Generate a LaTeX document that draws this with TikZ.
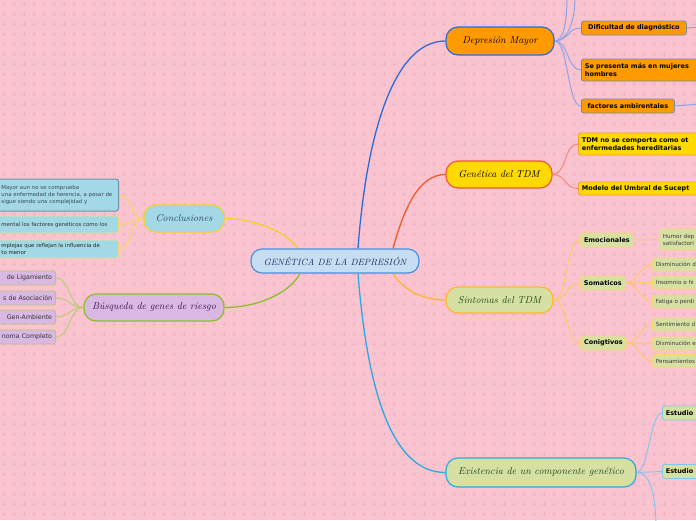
\documentclass[tikz,border=0pt]{standalone}
\usepackage{fontspec}
\setsansfont{DejaVu Sans}
\usetikzlibrary{calc}
\pgfdeclarelayer{bgl}
\pgfsetlayers{bgl,main}
\definecolor{bg}{HTML}{F9C4D0}
\definecolor{plusc}{HTML}{EEB4C3}
\definecolor{cfill}{HTML}{C5DEF2}
\definecolor{cdraw}{HTML}{4A90E2}
\definecolor{ctext}{HTML}{1B2A5C}
\definecolor{orfill}{HTML}{FF9A00}
\definecolor{dmdraw}{HTML}{2E6BD6}
\definecolor{yefill}{HTML}{FFD900}
\definecolor{gendraw}{HTML}{F05A28}
\definecolor{grfill}{HTML}{D6E0A3}
\definecolor{sindraw}{HTML}{FFB52E}
\definecolor{exdraw}{HTML}{29A9E1}
\definecolor{cofill}{HTML}{A3D9E6}
\definecolor{codraw}{HTML}{F2D22A}
\definecolor{bufill}{HTML}{D9B8E3}
\definecolor{budraw}{HTML}{8DBE2A}
\definecolor{dgreen}{HTML}{1C4A1C}
\definecolor{dblue}{HTML}{2B4060}
\definecolor{dpurple}{HTML}{3C1450}
\definecolor{dmsub}{HTML}{7A8AA0}
\definecolor{gensub}{HTML}{F0A030}
\definecolor{sinsub}{HTML}{FFD27A}
\definecolor{exsub}{HTML}{7EC8E8}
\definecolor{cosubA}{HTML}{6F92A8}
\definecolor{cosubB}{HTML}{EEDC80}
\definecolor{busub}{HTML}{B9C66E}
\definecolor{dmc}{HTML}{8EA4E8}
\definecolor{genc}{HTML}{F4877A}
\definecolor{sinc}{HTML}{FFC86A}
\definecolor{exc}{HTML}{88C4EC}
\definecolor{coc}{HTML}{F5D860}
\definecolor{buc}{HTML}{BCCB70}
\definecolor{leaftext}{HTML}{3A3A3A}
\definecolor{slate}{HTML}{3B4B5B}
\tikzset{
  mainbox/.style={draw, line width=1.2pt, rounded corners=12pt, inner sep=0pt,
    font=\itshape\fontsize{10}{12}\selectfont},
  subbox/.style={draw, line width=0.8pt, rounded corners=2.5pt, inner xsep=3.5pt, inner ysep=0pt,
    font=\sffamily\bfseries\fontsize{6.5}{8}\selectfont, anchor=west, align=left, text=black},
  leafbox/.style={subbox, font=\sffamily\fontsize{5.6}{7}\selectfont, text=leaftext},
  mainline/.style={line width=1.3pt},
  childline/.style={line width=1pt}
}
\begin{document}
\begin{tikzpicture}[x=1pt,y=-1pt]
\useasboundingbox (0,0) rectangle (696,520);

% main nodes
\node[mainbox, fill=cfill, draw=cdraw, text=ctext, minimum width=168pt, minimum height=24pt, rounded corners=11pt,
  font=\itshape\fontsize{9.1}{11}\selectfont] (c) at (335,261) {GENÉTICA DE LA DEPRESIÓN};
\node[mainbox, fill=orfill, draw=dmdraw, text=black, minimum width=108pt, minimum height=28pt] (dm) at (500,41) {Depresión Mayor};
\node[mainbox, fill=yefill, draw=gendraw, text=black, minimum width=106pt, minimum height=27pt] (gen) at (499,174.5) {Genética del TDM};
\node[mainbox, fill=grfill, draw=sindraw, text=dgreen, minimum width=107pt, minimum height=26pt] (sin) at (499.5,300) {Sintomas del TDM};
\node[mainbox, fill=grfill, draw=exdraw, text=dgreen, minimum width=190pt, minimum height=29pt] (exi) at (541,472.5) {Existencia de un componente genético};
\node[mainbox, fill=cofill, draw=codraw, text=dblue, minimum width=80pt, minimum height=27pt] (con) at (184,218.5) {Conclusiones};
\node[mainbox, fill=bufill, draw=budraw, text=dpurple, minimum width=140pt, minimum height=27pt] (bus) at (154,307.5) {Búsqueda de genes de riesgo};

% Depresion Mayor children
\node[subbox, fill=orfill, draw=dmsub, minimum width=105pt, minimum height=14pt] (d1) at (581,28) {Dificultad de diagnóstico};
\node[subbox, fill=orfill, draw=dmsub, text width=140pt, minimum height=22pt] (d2) at (581,70) {Se presenta más en mujeres\\hombres};
\node[subbox, fill=orfill, draw=dmsub, minimum width=93pt, minimum height=14pt] (d3) at (581,106) {factores ambirentales};
\coordinate (top1) at (575,-3);
\coordinate (top2) at (567,-3);
\coordinate (d1r) at (700,27);
\coordinate (d3r) at (700,104);

% Genetica children
\node[subbox, fill=yefill, draw=gensub, text width=140pt, minimum height=22pt] (g1) at (578,144) {TDM no se comporta como ot\\enfermedades hereditarias};
\node[subbox, fill=yefill, draw=gensub, text width=140pt, minimum height=13pt] (g2) at (578,188.5) {Modelo del Umbral de Sucept};

% Sintomas children
\node[subbox, fill=grfill, draw=sinsub, minimum width=53pt, minimum height=14pt] (s1) at (580,240) {Emocionales};
\node[subbox, fill=grfill, draw=sinsub, minimum width=45pt, minimum height=14pt] (s2) at (580,283) {Somaticos};
\node[subbox, fill=grfill, draw=sinsub, minimum width=46pt, minimum height=14pt] (s3) at (580,343) {Conigtivos};
\node[leafbox, fill=grfill, draw=sinsub, text width=60pt, minimum height=21pt] (e1) at (659,239.5) {Humor dep\\satisfactori};
\node[leafbox, fill=grfill, draw=sinsub, text width=60pt, minimum height=13pt] (so1) at (652,264.5) {Disminución d};
\node[leafbox, fill=grfill, draw=sinsub, text width=60pt, minimum height=13pt] (so2) at (652,282.5) {Insomnio o hi};
\node[leafbox, fill=grfill, draw=sinsub, text width=60pt, minimum height=13pt] (so3) at (652,301.5) {Fatiga o perdi};
\node[leafbox, fill=grfill, draw=sinsub, text width=60pt, minimum height=13pt] (cg1) at (652,324.5) {Sentimiento d};
\node[leafbox, fill=grfill, draw=sinsub, text width=60pt, minimum height=13pt] (cg2) at (652,343.5) {Disminución e};
\node[leafbox, fill=grfill, draw=sinsub, text width=60pt, minimum height=13pt] (cg3) at (652,361) {Pensamientos};

% Existencia children
\node[subbox, fill=grfill, draw=exsub, text width=50pt, minimum height=14pt] (x1) at (662,413) {Estudio};
\node[subbox, fill=grfill, draw=exsub, text width=50pt, minimum height=14pt] (x2) at (662,471.5) {Estudio};
\coordinate (x3) at (656,530);

% Conclusiones children
\node[leafbox, fill=cofill, draw=cosubA, line width=1pt, inner xsep=5pt, text width=112pt, minimum height=32pt, text=slate,
  font=\sffamily\fontsize{5.4}{7}\selectfont] (k1) at (-4,195)
  {Mayor aun no se comprueba\\una enfermedad de herencia, a pesar de\\sigue siendo una complejidad y};
\node[leafbox, fill=cofill, draw=cosubB, inner xsep=5pt, text width=112pt, minimum height=17pt, text=black!80,
  font=\sffamily\fontsize{5.4}{7}\selectfont] (k2) at (-4,224.5)
  {mental los factores genéticos como los};
\node[leafbox, fill=cofill, draw=cosubB, inner xsep=5pt, text width=112pt, minimum height=18pt, text=black!85,
  font=\sffamily\fontsize{5.4}{7}\selectfont] (k3) at (-4,249)
  {mplejas que reflejan la influencia de\\to menor};

% Busqueda children
\tikzset{bubox/.style={leafbox, anchor=east, align=right, fill=bufill, draw=busub, text width=64pt, minimum height=14pt,
  font=\sffamily\fontsize{6.3}{7.5}\selectfont, text=black!80}}
\node[bubox] (b1) at (56,278) {de Ligamiento};
\node[bubox] (b2) at (56,298) {s de Asociación};
\node[bubox] (b3) at (56,317) {Gen-Ambiente};
\node[bubox] (b4) at (56,337) {noma Completo};

\begin{pgfonlayer}{bgl}
\clip (0,0) rectangle (696,520);
\fill[bg] (0,0) rectangle (696,520);
\path[draw=plusc,line width=0.45pt] \foreach \x in {4,14,...,694} {\foreach \y in {4,14,...,514} {(\x,\y) +(-1.6,0) -- +(1.6,0) +(0,-1.6) -- +(0,1.6)}};

% main connectors
\draw[mainline, draw=dmdraw] ([xshift=23pt]c.north) .. controls (366,140) and (392,41) .. (dm.west);
\draw[mainline, draw=gendraw] ([xshift=58pt]c.north) .. controls (405,205) and (420,174.5) .. (gen.west);
\draw[mainline, draw=sindraw] ([xshift=58pt]c.south) .. controls (405,292) and (425,300) .. (sin.west);
\draw[mainline, draw=exdraw] ([xshift=23pt]c.south) .. controls (368,400) and (395,472.5) .. (exi.west);
\draw[mainline, draw=codraw] ([xshift=-37pt]c.north) .. controls (285,230) and (250,218.5) .. (con.east);
\draw[mainline, draw=budraw] ([xshift=-35pt]c.south) .. controls (288,295) and (255,307.5) .. (bus.east);

% child connectors
\foreach \t in {d1,d2,d3}
  \draw[childline, draw=dmc] (dm.east) .. controls +(14,0) and +(-14,0) .. (\t.west);
\draw[childline, draw=dmc] (dm.east) .. controls +(14,0) and +(0,22) .. (top1);
\draw[childline, draw=dmc] (dm.east) .. controls +(9,0) and +(0,25) .. (top2);
\draw[childline, draw=dmc] (d1.east) -- (d1r);
\draw[childline, draw=dmc] (d3.east) -- (d3r);
\foreach \t in {g1,g2}
  \draw[childline, draw=genc] (gen.east) .. controls +(14,0) and +(-14,0) .. (\t.west);
\foreach \t in {s1,s2,s3}
  \draw[childline, draw=sinc] (sin.east) .. controls +(14,0) and +(-14,0) .. (\t.west);
\draw[childline, draw=sinc] (s1.east) -- (e1.west);
\foreach \t in {so1,so2,so3}
  \draw[childline, draw=sinc] (s2.east) .. controls +(12,0) and +(-12,0) .. (\t.west);
\foreach \t in {cg1,cg2,cg3}
  \draw[childline, draw=sinc] (s3.east) .. controls +(12,0) and +(-12,0) .. (\t.west);
\foreach \t in {x1,x2}
  \draw[childline, draw=exc] (exi.east) .. controls +(12,0) and +(-12,0) .. (\t.west);
\draw[childline, draw=exc] (exi.east) .. controls +(12,0) and +(0,-40) .. (x3);
\foreach \t in {k1,k2,k3}
  \draw[childline, draw=coc] (con.west) .. controls +(-14,0) and +(14,0) .. (\t.east);
\foreach \t in {b1,b2,b3,b4}
  \draw[childline, draw=buc] (bus.west) .. controls +(-14,0) and +(14,0) .. (\t.east);
\end{pgfonlayer}
\end{tikzpicture}
\end{document}
